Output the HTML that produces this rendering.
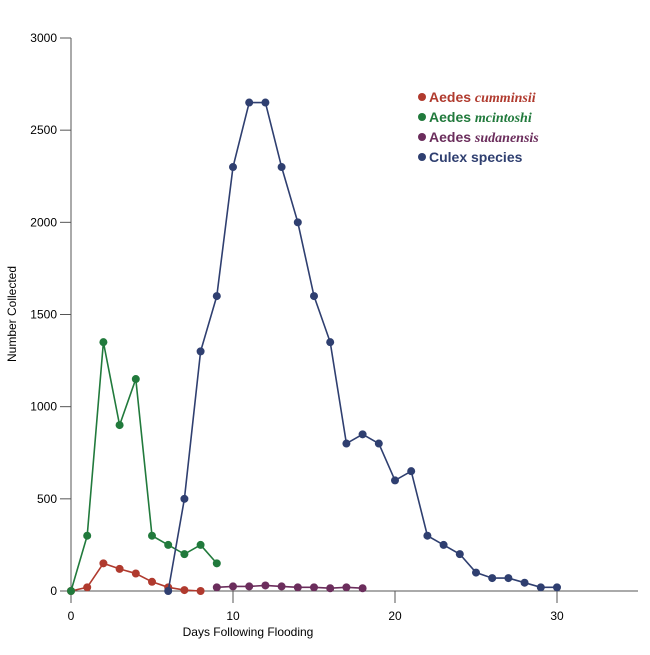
<!DOCTYPE html>
<html><head><meta charset="utf-8"><style>
body{margin:0;background:#fff;}
svg text{font-family:"Liberation Sans",sans-serif;}
</style></head><body>
<svg id="chart" width="650" height="650" xmlns="http://www.w3.org/2000/svg"></svg>
<script>
const xTicks=[0,10,20,30];
const yTicks=[0,500,1000,1500,2000,2500,3000];
const redDays=[0,1,2,3,4,5,6,7,8];
const redVals=[0,20,150,120,95,50,20,5,0];
const greenDays=[0,1,2,3,4,5,6,7,8,9];
const greenVals=[0,300,1350,900,1150,300,250,200,250,150];
const purpleDays=[9,10,11,12,13,14,15,16,17,18];
const purpleVals=[20,25,25,30,25,20,20,15,20,15];
const blueDays=[6,7,8,9,10,11,12,13,14,15,16,17,18,19,20,21,22,23,24,25,26,27,28,29,30];
const blueVals=[0,500,1300,1600,2300,2650,2650,2300,2000,1600,1350,800,850,800,600,650,300,250,200,100,70,70,45,20,20];
const seriesNames=["Aedes cumminsii","Aedes mcintoshi","Aedes sudanensis","Culex species"];

const NS="http://www.w3.org/2000/svg";
const svg=document.getElementById('chart');
const X=d=>71+d*16.2;
const Y=v=>591-v*(553/3000);
function mk(tag,attrs,parent){const e=document.createElementNS(NS,tag);for(const k in attrs)e.setAttribute(k,attrs[k]);(parent||svg).appendChild(e);return e;}

let a=mk('line',{x1:71,y1:38,x2:71,y2:603,stroke:'#555','stroke-width':1});


a=mk('line',{x1:60,y1:591,x2:638,y2:591,stroke:'#555','stroke-width':1});


yTicks.forEach(v=>{
  const t=mk('line',{x1:60,y1:Y(v),x2:71,y2:Y(v),stroke:'#555'});
  
  
  const l=mk('text',{x:57,y:Y(v)+4,'text-anchor':'end','font-size':12,fill:'#000'});
  l.textContent=v;
  
  
});
xTicks.forEach(d=>{
  const t=mk('line',{x1:X(d),y1:591,x2:X(d),y2:603,stroke:'#555'});
  
  
  const l=mk('text',{x:X(d),y:620,'text-anchor':'middle','font-size':12,fill:'#000'});
  l.textContent=d;
  
  
});
let t=mk('text',{x:248,y:636,'text-anchor':'middle','font-size':12});
t.textContent='Days Following Flooding';


t=mk('text',{x:16,y:314,'text-anchor':'middle','font-size':12,transform:'rotate(-90 16 314)'});
t.textContent='Number Collected';



function series(days,vals,color,name){
  const g=mk('g',{});
  
  
  const p=mk('polyline',{points:days.map((d,i)=>X(d)+','+Y(vals[i])).join(' '),fill:'none',stroke:color,'stroke-width':1.6},g);
  
  
  days.forEach((d,i)=>{
    const c=mk('circle',{cx:X(d),cy:Y(vals[i]),r:4,fill:color},g);
    
    
  });
}
series(redDays,redVals,'#b03a2e','cumminsii-series');
series(greenDays,greenVals,'#217a3c','mcintoshi-series');
series(purpleDays,purpleVals,'#6b2d5c','sudanensis-series');
series(blueDays,blueVals,'#2f3f70','culex-series');

const legColors=['#b03a2e','#217a3c','#6b2d5c','#2f3f70'];
seriesNames.forEach((n,i)=>{
  const y=102+i*20;
  const g=mk('g',{});
  
  
  mk('circle',{cx:422,cy:y-5,r:4,fill:legColors[i]},g);
  const tx=mk('text',{x:429,y:y,'font-size':14,'font-weight':'bold',fill:legColors[i]},g);
  const parts=n.split(' ');
  const s1=mk('tspan',{},tx);s1.textContent=parts[0]+' ';
  const s2=mk('tspan',{},tx);s2.textContent=parts[1];
  if(i<3){s2.setAttribute('font-family','Liberation Serif, serif');s2.setAttribute('font-style','italic');}
});
</script>
</body></html>
